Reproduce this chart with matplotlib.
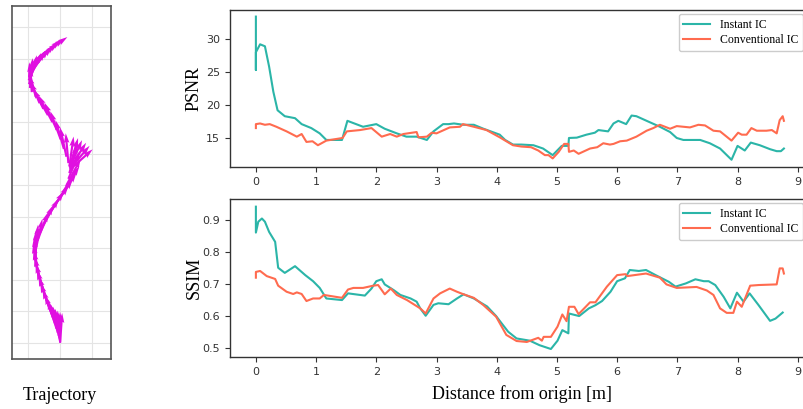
import matplotlib
matplotlib.use("Agg")
import matplotlib.pyplot as plt
import numpy as np

# ---- PSNR curves (distance [m], value) ----
psnr_inst_d = [0.0, 0.0, 0.0, 0.07, 0.15, 0.22, 0.29, 0.36, 0.48, 0.65, 0.76, 0.92, 1.06, 1.17,
               1.43, 1.52, 1.78, 2.0, 2.14, 2.34, 2.5, 2.67, 2.84, 2.95, 3.11, 3.2, 3.29, 3.45,
               3.62, 3.78, 4.05, 4.14, 4.27, 4.41, 4.61, 4.77, 4.93, 5.08, 5.19, 5.2, 5.33,
               5.49, 5.63, 5.69, 5.85, 5.94, 6.02, 6.15, 6.24, 6.32, 6.49, 6.71, 6.88, 6.99,
               7.1, 7.38, 7.54, 7.71, 7.9, 8.0, 8.12, 8.22, 8.37, 8.54, 8.65, 8.72, 8.77]
psnr_inst_v = [33.4, 25.3, 28.0, 29.2, 28.9, 25.8, 22.0, 19.2, 18.3, 18.0, 17.1, 16.5, 15.7, 14.7,
               14.7, 17.6, 16.7, 17.1, 16.4, 15.7, 15.2, 15.2, 14.7, 16.0, 17.1, 17.1, 17.2, 17.0,
               17.0, 16.4, 15.5, 14.7, 14.0, 14.0, 13.9, 13.4, 12.4, 13.8, 13.8, 15.0, 15.05,
               15.5, 15.8, 16.2, 16.0, 17.2, 17.6, 17.1, 18.4, 18.3, 17.6, 16.7, 15.9, 15.0,
               14.7, 14.7, 14.2, 13.4, 11.7, 13.8, 13.1, 14.3, 13.9, 13.3, 13.0, 13.0, 13.4]

psnr_conv_d = [0.0, 0.0, 0.07, 0.15, 0.23, 0.34, 0.51, 0.68, 0.76, 0.84, 0.94, 1.03, 1.17, 1.44,
               1.51, 1.73, 1.92, 2.09, 2.23, 2.34, 2.45, 2.67, 2.7, 2.84, 2.92, 3.0, 3.22, 3.39,
               3.44, 3.62, 3.83, 4.05, 4.27, 4.41, 4.57, 4.69, 4.8, 4.86, 4.93, 5.03, 5.12, 5.19,
               5.2, 5.28, 5.36, 5.55, 5.67, 5.77, 5.88, 5.94, 6.05, 6.16, 6.32, 6.49, 6.6, 6.71,
               6.88, 6.99, 7.21, 7.35, 7.46, 7.6, 7.71, 7.9, 8.01, 8.07, 8.15, 8.23, 8.32, 8.48,
               8.57, 8.65, 8.7, 8.75, 8.77]
psnr_conv_v = [16.5, 17.1, 17.2, 17.0, 17.1, 16.7, 16.0, 15.2, 15.6, 14.4, 14.5, 13.9, 14.6, 15.0,
               16.0, 16.2, 16.5, 15.2, 15.6, 15.2, 15.6, 15.9, 15.1, 15.2, 15.8, 15.7, 16.6, 16.7,
               17.1, 16.7, 16.2, 15.1, 13.9, 13.7, 13.6, 13.1, 12.4, 12.4, 11.9, 12.9, 14.1, 14.1,
               12.9, 13.1, 12.6, 13.4, 13.6, 14.2, 14.0, 14.1, 14.5, 14.6, 15.2, 16.1, 16.5, 17.0,
               16.4, 16.8, 16.6, 17.0, 16.9, 16.1, 16.0, 14.6, 15.8, 15.5, 15.5, 16.5, 16.1, 16.1,
               16.2, 15.7, 17.7, 18.3, 17.6]

# ---- SSIM curves ----
ssim_inst_d = [0.0, 0.0, 0.04, 0.1, 0.15, 0.22, 0.32, 0.37, 0.48, 0.65, 0.82, 0.95, 1.06, 1.17,
               1.43, 1.53, 1.81, 1.92, 2.0, 2.09, 2.14, 2.29, 2.4, 2.57, 2.67, 2.73, 2.82, 2.95,
               3.03, 3.2, 3.34, 3.45, 3.62, 3.84, 3.99, 4.05, 4.19, 4.33, 4.55, 4.71, 4.9, 5.01,
               5.09, 5.19, 5.2, 5.37, 5.53, 5.64, 5.75, 5.89, 6.0, 6.13, 6.21, 6.36, 6.48, 6.64,
               6.86, 6.97, 7.14, 7.3, 7.44, 7.52, 7.63, 7.77, 7.88, 7.99, 8.1, 8.2, 8.35, 8.54,
               8.63, 8.75]
ssim_inst_v = [0.942, 0.861, 0.895, 0.905, 0.895, 0.863, 0.832, 0.751, 0.735, 0.756, 0.728, 0.709,
               0.688, 0.655, 0.65, 0.671, 0.664, 0.686, 0.709, 0.715, 0.699, 0.681, 0.666, 0.655,
               0.645, 0.624, 0.601, 0.635, 0.64, 0.637, 0.655, 0.668, 0.655, 0.630, 0.600, 0.585,
               0.551, 0.530, 0.523, 0.509, 0.497, 0.523, 0.556, 0.546, 0.608, 0.600, 0.624, 0.634,
               0.647, 0.676, 0.709, 0.718, 0.744, 0.741, 0.744, 0.728, 0.707, 0.692, 0.702, 0.715,
               0.709, 0.709, 0.697, 0.66, 0.624, 0.673, 0.645, 0.671, 0.634, 0.585, 0.592, 0.611]

ssim_conv_d = [0.0, 0.0, 0.07, 0.18, 0.32, 0.37, 0.51, 0.62, 0.68, 0.76, 0.84, 0.95, 1.06, 1.13,
               1.43, 1.53, 1.62, 1.78, 1.95, 2.03, 2.14, 2.24, 2.34, 2.51, 2.73, 2.82, 2.95, 3.06,
               3.22, 3.34, 3.45, 3.62, 3.78, 3.99, 4.16, 4.33, 4.5, 4.69, 4.75, 4.78, 4.9, 5.01,
               5.09, 5.16, 5.2, 5.29, 5.36, 5.55, 5.64, 5.83, 6.0, 6.14, 6.17, 6.48, 6.71, 6.82,
               6.99, 7.32, 7.49, 7.6, 7.71, 7.82, 7.93, 7.99, 8.07, 8.21, 8.35, 8.65, 8.7, 8.75,
               8.77]
ssim_conv_v = [0.72, 0.738, 0.741, 0.725, 0.716, 0.695, 0.676, 0.669, 0.674, 0.669, 0.647, 0.655,
               0.655, 0.666, 0.657, 0.683, 0.688, 0.688, 0.695, 0.697, 0.668, 0.686, 0.666, 0.65,
               0.624, 0.608, 0.655, 0.671, 0.686, 0.676, 0.668, 0.657, 0.634, 0.598, 0.541, 0.522,
               0.519, 0.532, 0.523, 0.535, 0.535, 0.567, 0.605, 0.584, 0.629, 0.629, 0.606, 0.643,
               0.643, 0.692, 0.728, 0.731, 0.725, 0.733, 0.72, 0.699, 0.688, 0.691, 0.68, 0.666,
               0.624, 0.61, 0.61, 0.645, 0.629, 0.695, 0.697, 0.699, 0.749, 0.749, 0.733]

# ---- trajectory poses (grid units, heading in degrees) ----
traj_x = [1.00, 1.00, 0.99, 0.98, 0.96, 0.93, 0.89, 0.84, 0.78, 0.71, 0.64, 0.57, 0.50, 0.43,
          0.37, 0.31, 0.27, 0.24, 0.23, 0.25, 0.30, 0.38, 0.48, 0.60, 0.72, 0.85, 0.98, 1.10,
          1.20, 1.26, 1.29,
          1.31, 1.31, 1.31, 1.30, 1.30, 1.29,
          1.26, 1.20, 1.12, 1.02, 0.90, 0.76, 0.62, 0.48, 0.36, 0.24,
          0.12, 0.06, 0.03, 0.02, 0.03, 0.06, 0.10, 0.15, 0.21, 0.28, 0.36, 0.45]
traj_y = [0.00, 0.03, 0.08, 0.14, 0.22, 0.32, 0.45, 0.62, 0.80, 1.00, 1.20, 1.40, 1.60, 1.80,
          2.00, 2.20, 2.40, 2.60, 2.80, 3.00, 3.25, 3.50, 3.75, 4.00, 4.20, 4.40, 4.60, 4.80,
          5.00, 5.20, 5.38,
          5.50, 5.52, 5.54, 5.56, 5.58, 5.60,
          5.70, 5.90, 6.15, 6.45, 6.75, 7.00, 7.22, 7.42, 7.60, 7.80,
          7.95, 8.08, 8.20, 8.32, 8.44, 8.56, 8.68, 8.80, 8.90, 9.00, 9.08, 9.15]
traj_heading = [86, 90, 94, 98, 101, 104, 107, 109, 110, 110, 109, 108, 106, 104,
                102, 99, 95, 90, 85, 78, 70, 65, 60, 57, 55, 55, 56, 58,
                62, 68, 75,
                42, 50, 58, 66, 74, 82,
                95, 102, 106, 110, 114, 117, 119, 116, 112, 104,
                95, 85, 75, 66, 58, 52, 47, 43, 40, 38, 36, 35]

TEAL = "#2bb5a8"
CORAL = "#ff6b4f"
SERIF = "Liberation Serif"
ARROW_LEN = 0.95

fig = plt.figure(figsize=(8.04, 4.09), dpi=100)

# trajectory panel
axt = fig.add_axes([12 / 804, 1 - 359 / 409, 99 / 804, 353 / 409])
hx = np.radians(traj_heading)
axt.quiver(traj_x, traj_y, ARROW_LEN * np.cos(hx), ARROW_LEN * np.sin(hx),
           angles="xy", scale_units="xy", scale=1, color="#e010e0",
           width=0.022, headwidth=2.6, headlength=4.5, headaxislength=4.0)
axt.set_xlim(-0.5, 2.59)
axt.set_ylim(-0.51, 10.68)
axt.set_xticks([0, 1, 2])
axt.set_yticks(range(0, 11))
axt.grid(True, color="#e4e4e4", linewidth=0.8)
axt.set_axisbelow(True)
axt.tick_params(length=0, labelbottom=False, labelleft=False)
for s in axt.spines.values():
    s.set_color("#555555")
    s.set_linewidth(1.2)
fig.text(60 / 804, 1 - 396 / 409, "Trajectory", family=SERIF, fontsize=13,
         ha="center", va="center")

# metric panels
x0, x1 = 230, 814
w = (x1 - x0) / 804
ax1 = fig.add_axes([x0 / 804, 1 - 167 / 409, w, 157 / 409])
ax2 = fig.add_axes([x0 / 804, 1 - 357 / 409, w, 158 / 409])

ax1.plot(psnr_inst_d, psnr_inst_v, color=TEAL, lw=1.5, label="Instant IC")
ax1.plot(psnr_conv_d, psnr_conv_v, color=CORAL, lw=1.5, label="Conventional IC")
ax2.plot(ssim_inst_d, ssim_inst_v, color=TEAL, lw=1.5, label="Instant IC")
ax2.plot(ssim_conv_d, ssim_conv_v, color=CORAL, lw=1.5, label="Conventional IC")

ax1.set_ylim(10.6, 34.4)
ax1.set_yticks([15, 20, 25, 30])
ax2.set_ylim(0.472, 0.966)
ax2.set_yticks([0.5, 0.6, 0.7, 0.8, 0.9])
ax1.set_ylabel("PSNR", family=SERIF, fontsize=13)
ax2.set_ylabel("SSIM", family=SERIF, fontsize=13)
ax2.set_xlabel("Distance from origin [m]", family=SERIF, fontsize=13, labelpad=6)

for ax in (ax1, ax2):
    ax.set_xlim(-0.43, 9.27)
    ax.set_xticks(range(0, 10))
    ax.tick_params(labelsize=8, colors="#333333", length=3.5, width=0.8)
    for s in ax.spines.values():
        s.set_color("#333333")
        s.set_linewidth(1.0)
    ax.yaxis.set_label_coords(-0.047, 0.5)
    ax.legend(loc="upper right", bbox_to_anchor=((803 - x0) / (x1 - x0), 1 - 4 / 157),
              borderaxespad=0, prop={"family": SERIF, "size": 8.5},
              handlelength=2.3, labelspacing=0.3, borderpad=0.4, framealpha=1,
              edgecolor="#cccccc")

fig.savefig("out.png", dpi=100)
